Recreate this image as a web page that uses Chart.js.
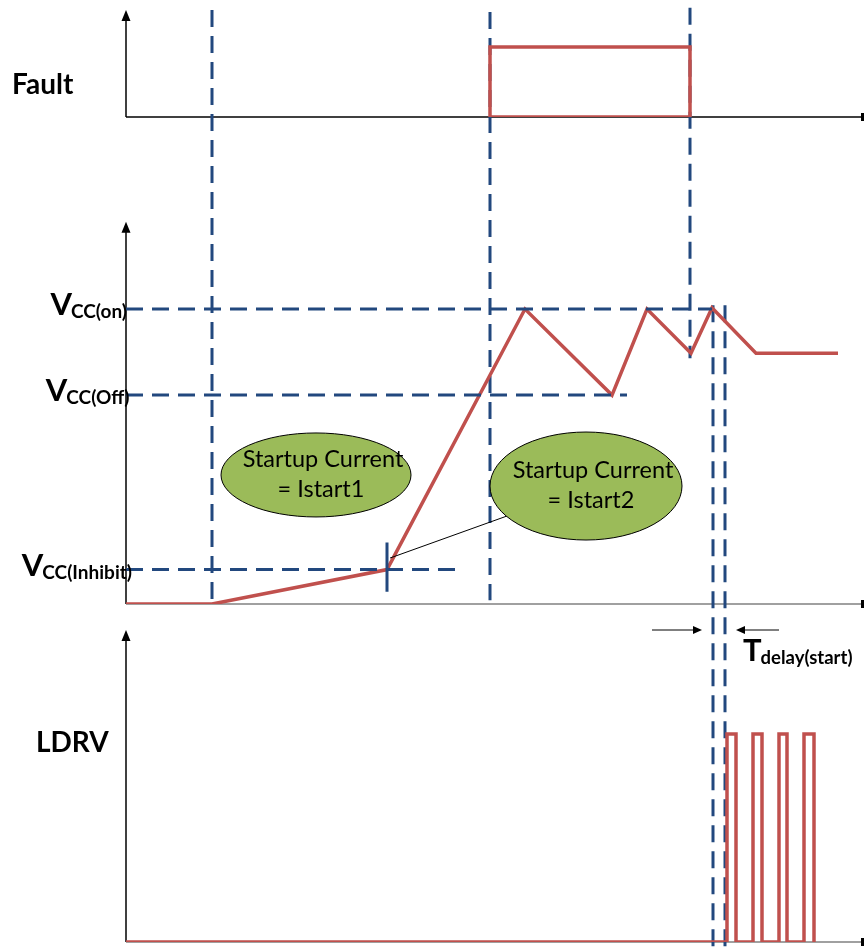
<!DOCTYPE html>
<html>
<head>
<meta charset="utf-8">
<script src="https://cdn.jsdelivr.net/npm/chart.js@4.4.1/dist/chart.umd.min.js"></script>
<style>
  html, body { margin: 0; padding: 0; background: #fff; }
  #wrap { position: relative; width: 865px; height: 948px; }
</style>
</head>
<body>
<div id="wrap"><canvas id="timingChart" width="865" height="948"></canvas></div>
<script>
// time in diagram units, 0 = the y axis
const faultTime  = [364, 364, 564, 564, 364];
const faultLevel = [0, 1, 1, 0, 0];

const vccTime  = [0, 86, 261, 399, 486, 521, 565, 586, 630, 712];
const vccVolts = [0, 0, 1.4, 12, 8.5, 12, 10.2, 12.05, 10.2, 10.2];

const ldrvTime  = [0, 601, 601, 610, 610, 627, 627, 636, 636, 653, 653, 661, 661, 678, 678, 688, 688];
const ldrvLevel = [0, 0, 1, 1, 0, 0, 1, 1, 0, 0, 1, 1, 0, 0, 1, 1, 0];

const levelNames = ['on', 'Off', 'Inhibit'];
const levelVolts = [12, 8.5, 1.4];
const levelEnds  = [586, 501, 331];

const markerTimes = [86, 364, 564, 587, 599];
const inhibitTime = 261;

const RED = '#C0504D';
const BLUE = '#22487E';
const GREEN = '#9BBB59';
const FONT = 'Lato, "Open Sans", sans-serif';
const DASH = [17, 9];

function pts(xs, ys) {
    return xs.map((x, i) => ({ x: x, y: ys[i] }));
}

const datasets = [
    { data: pts(faultTime, faultLevel), yAxisID: 'yFault', borderColor: RED, borderWidth: 3.5 },
    { data: pts(vccTime, vccVolts), yAxisID: 'yVcc', borderColor: RED, borderWidth: 3.5 },
    { data: pts(ldrvTime, ldrvLevel), yAxisID: 'yLdrv', borderColor: RED, borderWidth: 3.5 }
];
// threshold levels (dashed)
levelVolts.forEach((v, i) => {
    datasets.unshift({
        data: [{ x: 0, y: v }, { x: levelEnds[i], y: v }],
        yAxisID: 'yVcc', borderColor: BLUE, borderWidth: 3, borderDash: DASH
    });
});
// short tick at the inhibit crossing
datasets.unshift({
    data: [{ x: inhibitTime, y: 2.5 }, { x: inhibitTime, y: 0.5 }],
    yAxisID: 'yVcc', borderColor: BLUE, borderWidth: 3
});

// arrow head helper
function head(ctx, x, y, dir, len, half) {
    ctx.beginPath();
    if (dir === 'up') {
        ctx.moveTo(x, y); ctx.lineTo(x - half, y + len); ctx.lineTo(x + half, y + len);
    } else if (dir === 'right') {
        ctx.moveTo(x, y); ctx.lineTo(x - len, y - half); ctx.lineTo(x - len, y + half);
    } else {
        ctx.moveTo(x, y); ctx.lineTo(x + len, y - half); ctx.lineTo(x + len, y + half);
    }
    ctx.closePath();
    ctx.fill();
}

const diagram = {
    id: 'diagram',
    beforeDatasetsDraw(chart) {
        const ctx = chart.ctx;
        const xs = chart.scales.x;
        const yF = chart.scales.yFault, yV = chart.scales.yVcc, yL = chart.scales.yLdrv;
        const x0 = xs.getPixelForValue(0);
        const xEnd = xs.getPixelForValue(736);
        ctx.save();
        // axes
        const panels = [
            [yF, 1.53, '#000'],
            [yV, 15.55, '#808080'],
            [yL, 1.5, '#808080']
        ];
        panels.forEach(([s, top, base]) => {
            const yb = s.getPixelForValue(0);
            const yt = s.getPixelForValue(top);
            ctx.strokeStyle = '#000';
            ctx.fillStyle = '#000';
            ctx.lineWidth = 1.5;
            ctx.beginPath();
            ctx.moveTo(x0, yt + 6); ctx.lineTo(x0, yb);
            ctx.stroke();
            head(ctx, x0, yt, 'up', 11, 4.5);
            ctx.strokeStyle = base;
            ctx.beginPath();
            ctx.moveTo(x0, yb); ctx.lineTo(xEnd, yb);
            ctx.stroke();
            ctx.fillStyle = '#000';
            ctx.fillRect(xEnd - 1, yb - 4, 3, 8);
        });
        // vertical event markers
        const spans = [
            [yF.getPixelForValue(1.53), yV.getPixelForValue(0)],
            [yF.getPixelForValue(1.5), yV.getPixelForValue(0.15)],
            [yF.getPixelForValue(1.56), yV.getPixelForValue(10)],
            [yV.getPixelForValue(12.15), yL.getPixelForValue(-0.04)],
            [yV.getPixelForValue(12.15), yL.getPixelForValue(-0.04)]
        ];
        ctx.strokeStyle = BLUE;
        ctx.lineWidth = 3;
        ctx.setLineDash(DASH);
        markerTimes.forEach((t, i) => {
            const x = xs.getPixelForValue(t);
            ctx.beginPath();
            ctx.moveTo(x, spans[i][0]); ctx.lineTo(x, spans[i][1]);
            ctx.stroke();
        });
        ctx.restore();
    },
    afterDatasetsDraw(chart) {
        const ctx = chart.ctx;
        const xs = chart.scales.x;
        const yV = chart.scales.yVcc, yL = chart.scales.yLdrv;
        const x0 = xs.getPixelForValue(0);
        ctx.save();

        // callout line
        ctx.strokeStyle = '#000';
        ctx.lineWidth = 1;
        ctx.beginPath();
        ctx.moveTo(xs.getPixelForValue(264), yV.getPixelForValue(1.87));
        ctx.lineTo(xs.getPixelForValue(381), yV.getPixelForValue(3.58));
        ctx.stroke();

        // current bubbles
        const bubbles = [
            [190, 5.25, 95, 42, '= Istart1'],
            [460, 4.8, 96, 54, '= Istart2']
        ];
        bubbles.forEach(([t, v, rx, ry, txt]) => {
            const cx = xs.getPixelForValue(t), cy = yV.getPixelForValue(v);
            ctx.beginPath();
            ctx.ellipse(cx, cy, rx, ry, 0, 0, Math.PI * 2);
            ctx.fillStyle = GREEN;
            ctx.fill();
            ctx.strokeStyle = '#000';
            ctx.lineWidth = 1;
            ctx.stroke();
            ctx.fillStyle = '#000';
            ctx.font = '23.5px ' + FONT;
            ctx.textAlign = 'center';
            ctx.textBaseline = 'alphabetic';
            ctx.fillText('Startup Current', cx + 7, cy - 8);
            ctx.fillText(txt, cx + 5, cy + 22);
        });

        // panel names
        ctx.fillStyle = '#000';
        ctx.textAlign = 'left';
        ctx.font = 'bold 28px ' + FONT;
        ctx.fillText('Fault', 12, chart.scales.yFault.getPixelForValue(0.33));
        ctx.fillText('LDRV', 36, yL.getPixelForValue(0.915));

        // VCC level labels
        levelNames.forEach((name, i) => {
            const y = yV.getPixelForValue(levelVolts[i]);
            const sub = 'CC(' + name + ')';
            ctx.font = 'bold 19px ' + FONT;
            ctx.textAlign = 'right';
            const right = x0 + 1 + i * 2.5;
            ctx.fillText(sub, right, y + 9);
            const w = ctx.measureText(sub).width;
            ctx.font = 'bold 31px ' + FONT;
            ctx.fillText('V', right - w + 1, y + 6);
        });

        // T delay(start) arrows
        const ya = yL.getPixelForValue(1.5);
        ctx.strokeStyle = '#000';
        ctx.fillStyle = '#000';
        ctx.lineWidth = 1;
        const a1 = xs.getPixelForValue(526), a2 = xs.getPixelForValue(576);
        const b1 = xs.getPixelForValue(653), b2 = xs.getPixelForValue(610);
        ctx.beginPath();
        ctx.moveTo(a1, ya); ctx.lineTo(a2 - 8, ya);
        ctx.moveTo(b1, ya); ctx.lineTo(b2 + 8, ya);
        ctx.stroke();
        head(ctx, a2, ya, 'right', 9, 4);
        head(ctx, b2, ya, 'left', 9, 4);

        ctx.textAlign = 'left';
        ctx.font = 'bold 31px ' + FONT;
        const tx = xs.getPixelForValue(617);
        ctx.fillText('T', tx, ya + 31);
        const tw = ctx.measureText('T').width;
        ctx.font = 'bold 18.5px ' + FONT;
        ctx.fillText('delay(start)', tx + tw - 1, ya + 34);

        ctx.restore();
    }
};

new Chart(document.getElementById('timingChart').getContext('2d'), {
    type: 'scatter',
    data: { datasets: datasets },
    options: {
        responsive: false,
        animation: false,
        showLine: true,
        layout: { padding: { left: 126, right: 0, top: 0, bottom: 6 } },
        elements: {
            point: { radius: 0, hoverRadius: 0 },
            line: { tension: 0, borderJoinStyle: 'miter', borderCapStyle: 'butt', fill: false }
        },
        plugins: { legend: { display: false }, tooltip: { enabled: false } },
        scales: {
            x: { type: 'linear', min: 0, max: 739, display: false },
            yFault: { type: 'linear', position: 'left', stack: 'panels', stackWeight: 117, weight: 3,
                      min: 0, max: 117 / 70, display: false },
            yVcc: { type: 'linear', position: 'left', stack: 'panels', stackWeight: 487, weight: 2,
                    min: 0, max: 487 / 24.58, display: false },
            yLdrv: { type: 'linear', position: 'left', stack: 'panels', stackWeight: 338, weight: 1,
                     min: 0, max: 338 / 208, display: false }
        }
    },
    plugins: [diagram]
});
</script>
</body>
</html>
